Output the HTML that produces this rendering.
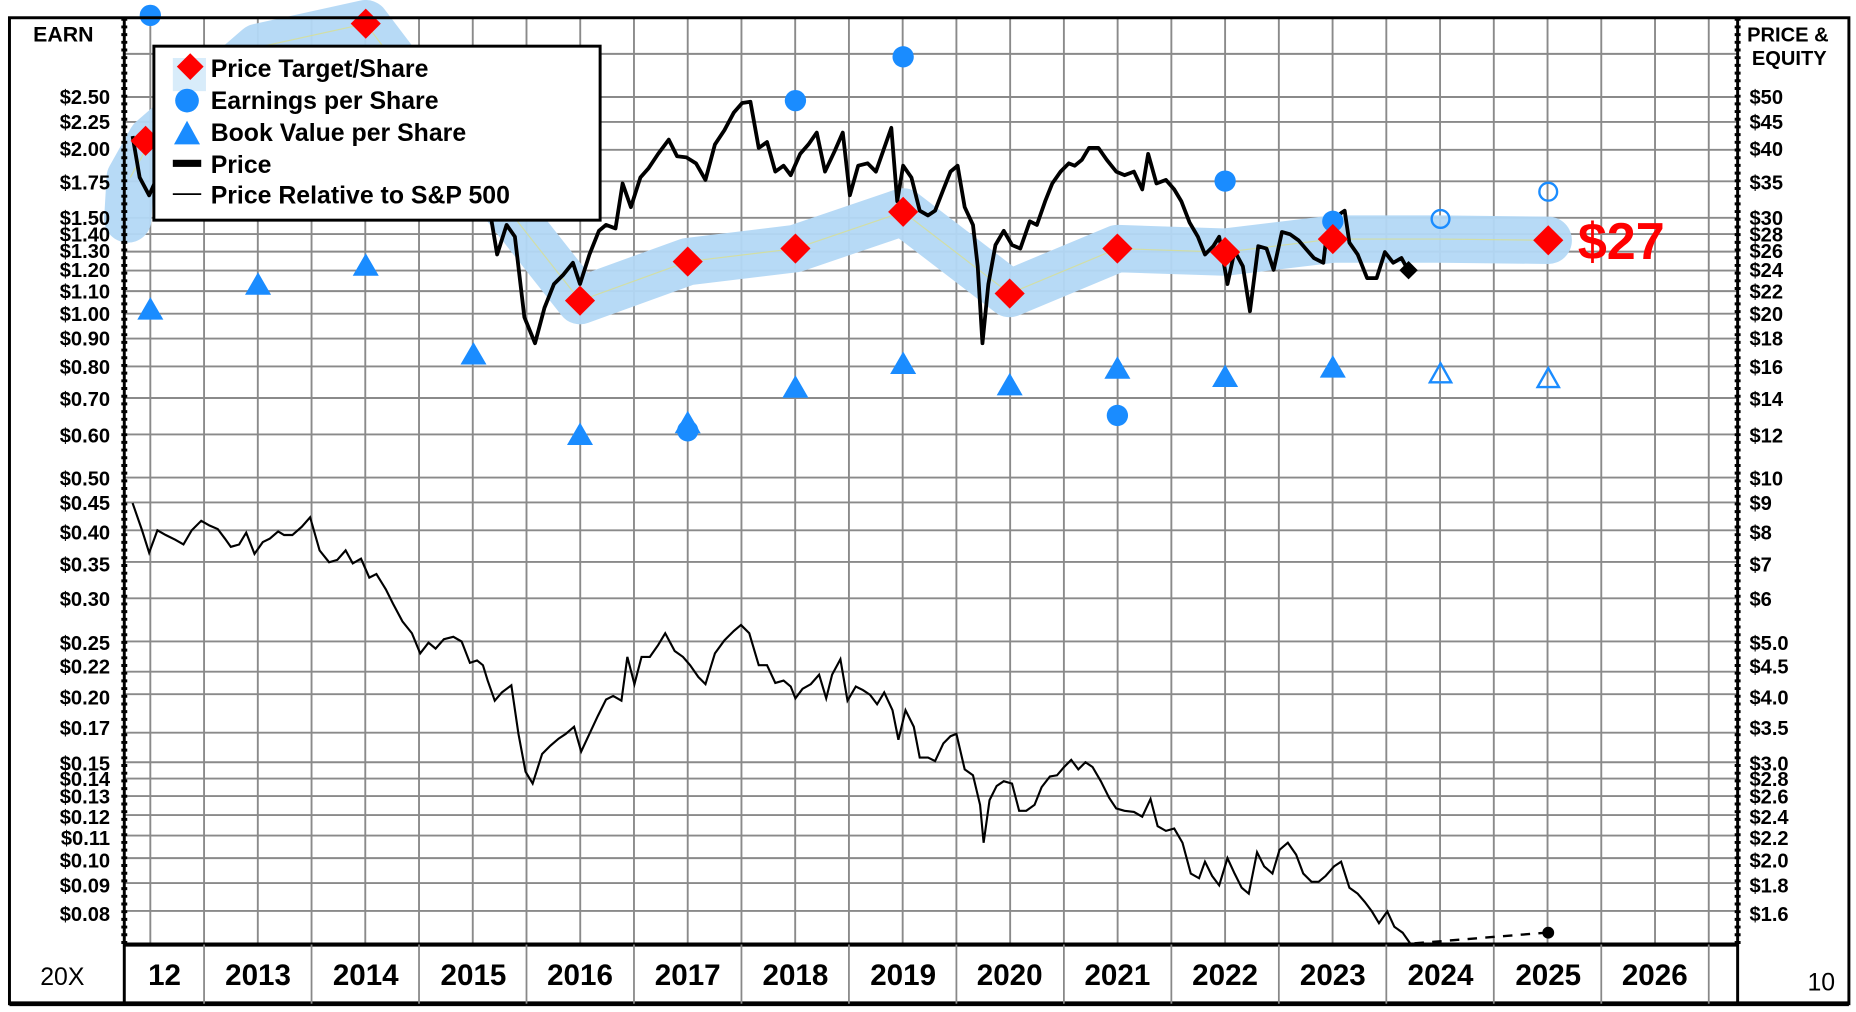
<!DOCTYPE html>
<html><head><meta charset="utf-8"><style>
html,body{margin:0;padding:0;background:#fff;}
svg{display:block;font-family:"Liberation Sans",Arial,sans-serif;}
.l{font-size:17px;font-weight:bold;text-anchor:end;}
.r{font-size:17px;font-weight:bold;text-anchor:start;}
.y{font-size:25px;font-weight:bold;text-anchor:middle;}
.lg{font-size:21px;font-weight:bold;}
</style></head><body>
<svg id="s" width="1856" height="1012" viewBox="0 0 1568 855" preserveAspectRatio="none" xmlns="http://www.w3.org/2000/svg">
<rect x="0" y="0" width="1568" height="855" fill="#fff"/>
<g id="grid" stroke="#8a8a8a" stroke-width="1.6"></g>
<!-- band -->
<polyline points="108,185 110,150 128,118 218,40 309,20 400,140 490,254 581,221 672,210 763,179 853,248 944,210 1035,213 1126,202 1217,202 1308,203" fill="none" stroke="#b3d8f5" stroke-width="40" stroke-linejoin="round" stroke-linecap="round" opacity="0.95"/>
<polyline points="110,150 128,118 218,40 309,20 400,140 490,254 581,221 672,210 763,179 853,248 944,210 1035,213 1126,202 1217,202 1308,203" fill="none" stroke="#d8df90" stroke-width="1" opacity="0.8"/>
<!-- relative line -->
<polyline fill="none" stroke="#000" stroke-width="1.8" points="112,425 120,448 126,467 133,448 140,452 148,456 155,460 162,448 170,440 177,444 184,447 190,455 195,462 202,460 208,450 215,468 222,458 228,455 235,449 240,452 247,452 255,445 262,437 270,465 278,475 285,473 292,465 298,476 305,472 312,488 318,485 326,498 332,510 340,525 348,535 355,552 362,543 368,548 375,540 383,538 390,542 397,560 403,558 408,562 412,575 418,592 424,585 432,579 438,620 444,652 450,662 458,637 465,630 472,624 478,620 485,614 491,635 498,620 505,605 512,591 518,588 525,592 530,555 536,578 542,555 549,555 556,545 562,535 570,550 577,555 583,562 590,572 596,578 604,552 612,541 620,533 626,528 633,535 641,562 648,562 655,577 662,575 668,580 672,590 678,582 685,578 692,570 698,590 703,570 710,557 716,592 723,580 729,583 735,587 741,595 747,585 754,600 759,625 765,600 772,614 777,640 784,640 790,643 797,628 803,622 808,620 815,650 822,655 828,680 831,712 836,676 842,664 848,660 855,662 861,685 867,685 874,680 880,665 887,656 893,655 899,648 905,642 911,650 917,644 923,648 930,660 937,674 943,683 950,685 958,686 965,690 972,675 978,698 985,702 992,700 999,712 1006,738 1013,742 1018,728 1024,740 1030,748 1037,725 1043,738 1049,750 1055,755 1062,720 1068,732 1075,738 1081,718 1088,712 1095,722 1101,738 1108,745 1114,745 1120,740 1127,732 1133,728 1140,750 1147,755 1153,762 1159,770 1165,780 1172,770 1178,783 1185,788 1192,798"/>
<line x1="1195" y1="797" x2="1306" y2="788" stroke="#000" stroke-width="2" stroke-dasharray="8,7"/>
<circle cx="1308" cy="788" r="5" fill="#000"/>
<!-- price line -->
<polyline fill="none" stroke="#000" stroke-width="3.2" stroke-linejoin="round" points="112,115 118,150 126,165 135,145 412,160 415,185 420,215 428,190 435,200 443,268 452,290 460,260 468,240 476,232 484,222 490,240 498,215 506,195 512,190 520,193 526,155 533,175 541,150 548,142 556,130 565,118 572,132 580,133 588,138 596,152 604,122 612,110 620,95 627,87 634,86 641,125 648,120 655,145 662,140 668,148 676,130 683,122 690,112 697,145 705,128 712,112 718,165 725,140 733,138 740,145 747,125 753,108 758,170 763,140 770,150 777,178 784,182 790,178 797,160 803,145 809,140 815,175 822,190 826,225 830,290 835,240 841,207 848,195 855,207 862,210 870,187 876,190 883,170 889,155 896,145 903,138 908,140 914,135 920,125 928,125 935,135 943,145 950,148 958,145 965,160 970,130 977,155 985,152 992,160 998,170 1005,188 1012,200 1018,215 1025,208 1030,200 1037,240 1043,212 1050,225 1056,263 1063,208 1070,210 1076,228 1083,196 1090,198 1097,203 1103,210 1110,218 1118,222 1120,205 1126,187 1133,180 1136,178 1140,205 1147,215 1155,235 1163,235 1170,213 1177,222 1184,218 1190,229"/>
<rect x="1184" y="223" width="11" height="11" fill="#000" transform="rotate(45 1190 229)"/>
<g fill="#1a8cff" id="tri"></g>
<g fill="#1a8cff">
<circle cx="127" cy="13" r="9"/><circle cx="672" cy="85" r="9"/><circle cx="763" cy="48" r="9"/><circle cx="944" cy="351" r="9"/><circle cx="1035" cy="153" r="9"/><circle cx="1126" cy="187" r="9"/><circle cx="581" cy="364" r="9"/>
</g>
<circle cx="1217" cy="185" r="7.5" fill="none" stroke="#1a8cff" stroke-width="2"/>
<circle cx="1308" cy="162" r="7.5" fill="none" stroke="#1a8cff" stroke-width="2"/>
<g fill="#ff0000" id="dia"></g>
<text x="1333" y="219" font-size="44" font-weight="bold" fill="#ff0000">$27</text>
<rect x="8" y="15" width="1554" height="833" fill="none" stroke="#000" stroke-width="2.5"/>
<line x1="8" y1="848" x2="1562" y2="848" stroke="#000" stroke-width="4"/>
<line x1="105" y1="798" x2="1468" y2="798" stroke="#000" stroke-width="3.5"/>
<line x1="105" y1="15" x2="105" y2="848" stroke="#000" stroke-width="2.5"/>
<line x1="1468" y1="15" x2="1468" y2="848" stroke="#000" stroke-width="2.5"/>
<line x1="105" y1="15" x2="105" y2="798" stroke="#000" stroke-width="5" stroke-dasharray="2.5,4"/>
<line x1="1468" y1="15" x2="1468" y2="798" stroke="#000" stroke-width="5" stroke-dasharray="2.5,4"/>
<g id="bsep" stroke="#888" stroke-width="1.5"></g>
<rect x="130" y="39" width="377" height="147" fill="#fff" stroke="#000" stroke-width="2.5"/>
<rect x="146" y="49" width="28" height="28" fill="#d8ecfa"/>
<rect x="152" y="48" width="16" height="16" fill="#f00" transform="rotate(45 160 57)"/>
<circle cx="158" cy="85" r="10" fill="#1a8cff"/>
<polygon points="158,102 169,122 147,122" fill="#1a8cff"/>
<rect x="146" y="135" width="24" height="6" fill="#000"/>
<line x1="146" y1="164" x2="170" y2="164" stroke="#000" stroke-width="1.5"/>
<text class="lg" x="178" y="65">Price Target/Share</text>
<text class="lg" x="178" y="92">Earnings per Share</text>
<text class="lg" x="178" y="119">Book Value per Share</text>
<text class="lg" x="178" y="146">Price</text>
<text class="lg" x="178" y="172">Price Relative to S&amp;P 500</text>
<text x="28" y="35" font-size="18" font-weight="bold">EARN</text>
<text x="1476" y="35" font-size="17" font-weight="bold">PRICE &amp;</text>
<text x="1480" y="55" font-size="17" font-weight="bold">EQUITY</text>
<g>
<text class="l" x="93" y="88">$2.50</text><text class="l" x="93" y="109">$2.25</text><text class="l" x="93" y="132">$2.00</text><text class="l" x="93" y="160">$1.75</text><text class="l" x="93" y="190">$1.50</text><text class="l" x="93" y="204">$1.40</text><text class="l" x="93" y="218">$1.30</text><text class="l" x="93" y="234">$1.20</text><text class="l" x="93" y="252">$1.10</text><text class="l" x="93" y="271">$1.00</text><text class="l" x="93" y="292">$0.90</text><text class="l" x="93" y="316">$0.80</text><text class="l" x="93" y="343">$0.70</text><text class="l" x="93" y="374">$0.60</text><text class="l" x="93" y="410">$0.50</text><text class="l" x="93" y="431">$0.45</text><text class="l" x="93" y="456">$0.40</text><text class="l" x="93" y="483">$0.35</text><text class="l" x="93" y="512">$0.30</text><text class="l" x="93" y="549">$0.25</text><text class="l" x="93" y="569">$0.22</text><text class="l" x="93" y="595">$0.20</text><text class="l" x="93" y="621">$0.17</text><text class="l" x="93" y="651">$0.15</text><text class="l" x="93" y="664">$0.14</text><text class="l" x="93" y="679">$0.13</text><text class="l" x="93" y="696">$0.12</text><text class="l" x="93" y="714">$0.11</text><text class="l" x="93" y="733">$0.10</text><text class="l" x="93" y="754">$0.09</text><text class="l" x="93" y="778">$0.08</text>
</g>
<g>
<text class="r" x="1478" y="88">$50</text><text class="r" x="1478" y="109">$45</text><text class="r" x="1478" y="132">$40</text><text class="r" x="1478" y="160">$35</text><text class="r" x="1478" y="190">$30</text><text class="r" x="1478" y="204">$28</text><text class="r" x="1478" y="218">$26</text><text class="r" x="1478" y="234">$24</text><text class="r" x="1478" y="252">$22</text><text class="r" x="1478" y="271">$20</text><text class="r" x="1478" y="292">$18</text><text class="r" x="1478" y="316">$16</text><text class="r" x="1478" y="343">$14</text><text class="r" x="1478" y="374">$12</text><text class="r" x="1478" y="410">$10</text><text class="r" x="1478" y="431">$9</text><text class="r" x="1478" y="456">$8</text><text class="r" x="1478" y="483">$7</text><text class="r" x="1478" y="512">$6</text><text class="r" x="1478" y="549">$5.0</text><text class="r" x="1478" y="569">$4.5</text><text class="r" x="1478" y="595">$4.0</text><text class="r" x="1478" y="621">$3.5</text><text class="r" x="1478" y="651">$3.0</text><text class="r" x="1478" y="664">$2.8</text><text class="r" x="1478" y="679">$2.6</text><text class="r" x="1478" y="696">$2.4</text><text class="r" x="1478" y="714">$2.2</text><text class="r" x="1478" y="733">$2.0</text><text class="r" x="1478" y="754">$1.8</text><text class="r" x="1478" y="778">$1.6</text>
</g>
<text class="y" x="139" y="832">12</text><text class="y" x="218" y="832">2013</text><text class="y" x="309" y="832">2014</text><text class="y" x="400" y="832">2015</text><text class="y" x="490" y="832">2016</text><text class="y" x="581" y="832">2017</text><text class="y" x="672" y="832">2018</text><text class="y" x="763" y="832">2019</text><text class="y" x="853" y="832">2020</text><text class="y" x="944" y="832">2021</text><text class="y" x="1035" y="832">2022</text><text class="y" x="1126" y="832">2023</text><text class="y" x="1217" y="832">2024</text><text class="y" x="1308" y="832">2025</text><text class="y" x="1398" y="832">2026</text>
<text x="34" y="832" font-size="21">20X</text>
<text x="1527" y="837" font-size="21">10</text>
</svg>
<script>
var NS="http://www.w3.org/2000/svg";
function el(p,t,a){var e=document.createElementNS(NS,t);for(var k in a)e.setAttribute(k,a[k]);p.appendChild(e);return e;}
var g=document.getElementById('grid');
var vals=[3.0,2.5,2.25,2.0,1.75,1.5,1.4,1.3,1.2,1.1,1.0,0.9,0.8,0.7,0.6,0.5,0.45,0.4,0.35,0.3,0.25,0.22,0.2,0.17,0.15,0.14,0.13,0.12,0.11,0.1,0.09,0.08];
vals.forEach(function(v){var y=265-460*Math.log10(v);el(g,'line',{x1:105,x2:1468,y1:y,y2:y});});
for(var x=127;x<1468;x+=45.4){el(g,'line',{x1:x,x2:x,y1:15,y2:798});}
var b=document.getElementById('bsep');
for(var x=172.4;x<1468;x+=90.8){el(b,'line',{x1:x,x2:x,y1:798,y2:848});}
var t=document.getElementById('tri');
[[127,262],[218,241],[309,225],[400,300],[490,368],[581,358],[672,328],[763,308],[853,326],[944,312],[1035,319],[1126,311]].forEach(function(p){el(t,'polygon',{points:(p[0])+','+(p[1]-11)+' '+(p[0]+11)+','+(p[1]+8)+' '+(p[0]-11)+','+(p[1]+8)});});
[[1217,316],[1308,320]].forEach(function(p){el(t.parentNode,'polygon',{points:(p[0])+','+(p[1]-9)+' '+(p[0]+9)+','+(p[1]+7)+' '+(p[0]-9)+','+(p[1]+7),fill:'none',stroke:'#1a8cff','stroke-width':2});});
var d=document.getElementById('dia');
[[123,119],[309,20],[490,254],[581,221],[672,210],[763,179],[853,248],[944,210],[1035,213],[1126,202],[1308,203]].forEach(function(p){el(d,'rect',{x:p[0]-9,y:p[1]-9,width:18,height:18,transform:'rotate(45 '+p[0]+' '+p[1]+')'});});
</script>
</body></html>
